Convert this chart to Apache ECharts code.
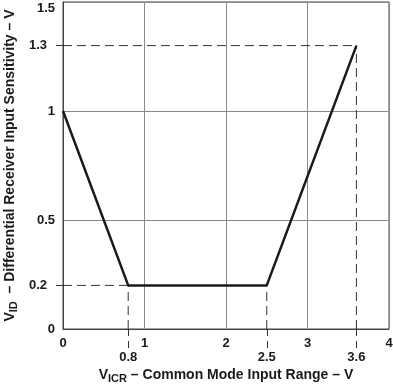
<!DOCTYPE html>
<html><head><meta charset="utf-8">
<script src="https://cdn.jsdelivr.net/npm/echarts@6/dist/echarts.min.js"></script>
<style>html,body{margin:0;padding:0;background:#fff}#c{width:393px;height:385px}</style>
</head><body><div id="c"></div>
<script>
// Data
var xTicks = [0, 1, 2, 3, 4];
var yTicks = [0, 0.5, 1, 1.5];
var xMarks = [0.8, 2.5, 3.6];
var yMarks = [0.2, 1.3];
var curveX = [0, 0.8, 2.5, 3.6];
var curveY = [1, 0.2, 0.2, 1.3];
// dashed guide lines: [x, y] corners
var guideX = [0.8, 2.5, 3.6];
var guideY = [0.2, 0.2, 1.3];
var hGuideY = [0.2, 1.3];
var hGuideX = [0.8, 3.6];

var FONT = 'Liberation Sans, Arial, sans-serif';
var chart = echarts.init(document.getElementById('c'));
var curve = curveX.map(function(x,i){return [x, curveY[i]];});
var series = [{
  type:'line', data: curve, symbol:'none', lineStyle:{color:'#1a1a1a', width:2.5}, z:5
}];
guideX.forEach(function(x,i){
  series.push({type:'line', symbol:'none', data:[[x,0],[x,guideY[i]]],
    lineStyle:{color:'#333', width:1, type:[9,5]}, z:3});
});
hGuideY.forEach(function(y,i){
  series.push({type:'line', symbol:'none', data:[[0,y],[hGuideX[i],y]],
    lineStyle:{color:'#333', width:1, type:[9,5]}, z:3});
});
var labelStyle = {color:'#1a1a1a', fontFamily:FONT, fontWeight:'bold', fontSize:13};
var nameRich = {
  a:{fontFamily:FONT, fontWeight:'bold', fontSize:14, color:'#1a1a1a'},
  s:{fontFamily:FONT, fontWeight:'bold', fontSize:11, color:'#1a1a1a', padding:[6,0,0,0]}
};
chart.setOption({
  animation:false,
  grid:{left:63, right:4, top:2, bottom:56, containLabel:false, outerBoundsMode:'none',
    show:true, borderColor:'#444', borderWidth:1, backgroundColor:'transparent'},
  xAxis:[{
    type:'value', min:0, max:4, interval:1, position:'bottom',
    axisLine:{show:true, lineStyle:{color:'#444', width:1}},
    axisTick:{show:false},
    splitLine:{show:true, lineStyle:{color:'#8a8a8a', width:1}},
    axisLabel:Object.assign({margin:8, customValues:xTicks}, labelStyle),
    name:'{a|V}{s|ICR}{a| – Common Mode Input Range – V}',
    nameLocation:'middle', nameGap:38,
    nameTextStyle:{rich:nameRich}
  },{
    type:'value', min:0, max:4, position:'bottom', offset:0,
    axisLine:{show:false}, splitLine:{show:false},
    axisTick:{show:true, customValues:xMarks, length:21, inside:false, lineStyle:{color:'#333', width:1, type:[7,5]}},
    axisLabel:Object.assign({margin:22, customValues:xMarks}, labelStyle)
  }],
  yAxis:[{
    type:'value', min:0, max:1.5, interval:0.5, position:'left',
    axisLine:{show:true, lineStyle:{color:'#444', width:1}},
    axisTick:{show:false},
    splitLine:{show:true, lineStyle:{color:'#8a8a8a', width:1}},
    axisLabel:Object.assign({margin:8, customValues:yTicks, verticalAlignMaxLabel:'top'}, labelStyle),
    name:'{a|V}{s|ID}{a|  – Differential Receiver Input Sensitivity – V}',
    nameLocation:'middle', nameGap:44, nameRotate:90,
    nameTextStyle:{rich:nameRich}
  },{
    type:'value', min:0, max:1.5, position:'left', offset:0,
    axisLine:{show:false}, splitLine:{show:false},
    axisTick:{show:true, customValues:yMarks, length:11, inside:false, lineStyle:{color:'#333', width:1, type:[7,4]}},
    axisLabel:Object.assign({margin:16, customValues:yMarks}, labelStyle)
  }],
  series: series
});
</script></body></html>
